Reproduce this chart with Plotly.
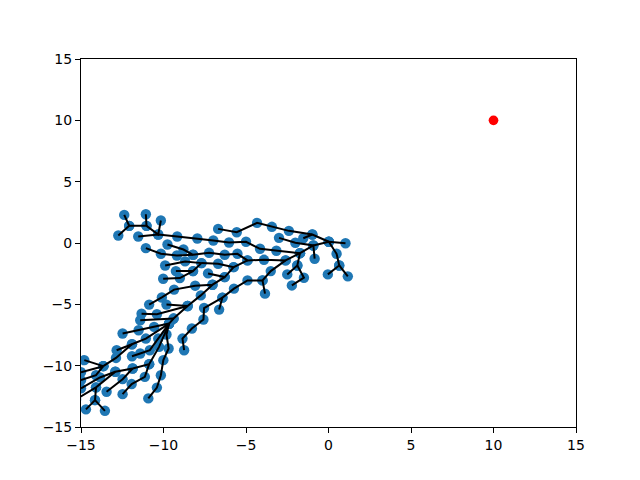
"""Tree of explored states with the goal point"""
import plotly.graph_objs as go

goal_x = [10]
goal_y = [10]
tick_vals = [-15, -10, -5, 0, 5, 10, 15]

# every branch is one connected polyline of the tree, as (x, y) states
top_left = [
    [(-12.74, 0.61), (-12.08, 1.40), (-12.38, 2.29)],
    [(-12.08, 1.40), (-11.03, 1.40), (-11.07, 2.34)],
    [(-11.03, 1.40), (-10.32, 0.69), (-10.16, 1.83)],
]
upper_band = [
    [(-11.53, 0.53), (-10.32, 0.69), (-9.17, 0.53), (-7.95, 0.37), (-6.98, 0.20),
     (-6.03, 0.04), (-5.00, 0.10), (-4.15, -0.47), (-3.16, -0.63), (-1.73, -0.83),
     (-0.92, -0.20), (0.02, 0.10), (1.03, -0.02)],
    [(-6.69, 1.15), (-5.56, 0.88), (-4.33, 1.64), (-3.43, 1.32), (-2.40, 0.99),
     (-0.98, 0.69), (0.02, 0.10)],
    [(-3.00, 0.42), (-2.01, 0.02), (-0.92, -0.20), (-0.84, -1.28)],
    [(-1.53, 0.39), (-0.98, 0.69)],
]
right_side = [
    [(0.02, 0.10), (0.49, -0.88), (0.65, -1.83), (-0.04, -2.56)],
    [(0.65, -1.83), (1.17, -2.72)],
    [(-1.73, -0.83), (-1.89, -1.83), (-2.50, -2.56)],
    [(-1.89, -1.83), (-1.49, -2.83), (-2.22, -3.46)],
]
lower_run = [
    [(-1.73, -0.83), (-2.60, -1.42), (-3.50, -2.29), (-4.00, -3.05), (-4.91, -3.05),
     (-5.73, -3.72), (-6.43, -4.45), (-6.63, -5.43)],
    [(-4.00, -3.05), (-3.85, -4.13)],
    [(-6.43, -4.45), (-7.54, -5.30), (-7.58, -6.24), (-8.28, -6.97), (-8.85, -7.79),
     (-8.75, -8.74)],
]
middle = [
    [(-2.60, -1.42), (-3.91, -1.37), (-4.91, -1.42), (-5.52, -0.88), (-6.29, -0.96),
     (-7.24, -0.80), (-8.21, -0.96), (-9.19, -1.02), (-10.16, -0.88), (-11.07, -0.42)],
    [(-8.21, -0.96), (-8.79, -0.53), (-9.76, -0.12)],
    [(-4.91, -1.42), (-5.75, -1.97), (-6.69, -1.69), (-7.70, -1.64), (-8.69, -1.50),
     (-9.90, -1.83)],
    [(-7.70, -1.64), (-8.21, -2.29), (-9.25, -2.29)],
    [(-8.21, -2.29), (-9.01, -2.86), (-10.02, -2.91)],
    [(-5.75, -1.97), (-6.29, -2.78), (-7.30, -2.48)],
    [(-6.29, -2.78), (-7.03, -3.40), (-8.08, -3.48), (-9.36, -3.80), (-10.10, -4.44),
     (-10.87, -5.02)],
    [(-7.03, -3.40), (-7.74, -4.27), (-8.54, -5.14), (-9.82, -5.02)],
]
trunk = [
    [(-8.54, -5.14), (-9.39, -6.16), (-9.66, -6.57)],
    [(-8.54, -5.14), (-10.40, -5.81), (-11.33, -5.76)],
    [(-9.39, -6.16), (-11.41, -6.30)],
    [(-9.66, -6.57), (-10.57, -6.84), (-11.51, -7.11), (-12.48, -7.38)],
    [(-9.66, -6.57), (-11.07, -7.79), (-11.91, -8.25), (-12.88, -9.37), (-13.65, -10.04)],
    [(-11.91, -8.25), (-12.84, -8.74)],
    [(-9.66, -6.57), (-10.32, -7.79), (-10.83, -8.74), (-11.41, -9.01), (-11.91, -9.23)],
    [(-9.66, -6.57), (-9.82, -7.46), (-9.69, -8.60), (-10.01, -9.55), (-10.16, -10.78),
     (-10.40, -11.79), (-10.92, -12.67)],
]
bottom_left = [
    [(-9.66, -6.57), (-10.27, -8.47), (-10.87, -9.88), (-11.87, -10.23), (-12.92, -10.50),
     (-14.09, -11.77), (-15.30, -12.75)],
    [(-10.87, -9.88), (-11.13, -10.91), (-11.93, -11.50), (-12.48, -12.32)],
    [(-11.87, -10.23), (-12.48, -11.10), (-13.45, -12.13)],
    [(-12.92, -10.50), (-13.85, -10.96), (-15.00, -11.85)],
    [(-13.65, -10.04), (-14.80, -9.55)],
    [(-13.65, -10.04), (-15.00, -10.53)],
    [(-13.65, -10.04), (-14.09, -10.78), (-15.00, -11.18)],
    [(-14.09, -11.77), (-14.15, -12.81), (-14.70, -13.56)],
    [(-14.15, -12.81), (-13.55, -13.68)],
]

branches = top_left + upper_band + right_side + lower_run + middle + trunk + bottom_left

node_x, node_y, edge_x, edge_y = [], [], [], []
for branch in branches:
    for x, y in branch:
        node_x.append(x)
        node_y.append(y)
        edge_x.append(x)
        edge_y.append(y)
    edge_x.append(None)
    edge_y.append(None)

data = [
    go.Scatter(x=node_x, y=node_y, mode='markers',
               marker=dict(color='#1f77b4', size=10.4, line=dict(width=0))),
    go.Scatter(x=edge_x, y=edge_y, mode='lines',
               line=dict(color='black', width=2)),
    go.Scatter(x=goal_x, y=goal_y, mode='markers',
               marker=dict(color='red', size=9.7, line=dict(width=0))),
]

axis = dict(
    range=[-15, 15],
    tickmode='array',
    tickvals=tick_vals,
    ticks='outside',
    ticklen=5,
    tickwidth=1,
    tickcolor='black',
    showgrid=False,
    zeroline=False,
    showline=True,
    linecolor='black',
    linewidth=1,
    mirror=True,
)

# the page body adds 8px on the left and top, so the margins leave that out
layout = go.Layout(
    width=624,
    height=464,
    autosize=False,
    showlegend=False,
    paper_bgcolor='white',
    plot_bgcolor='white',
    margin=dict(l=72.5, r=56, t=50.5, b=45, pad=0),
    font=dict(family='DejaVu Sans', size=14, color='black'),
    xaxis=axis,
    yaxis=axis,
)

fig = go.Figure(data=data, layout=layout)
fig.write_html("out.html", config=dict(displayModeBar=False))
